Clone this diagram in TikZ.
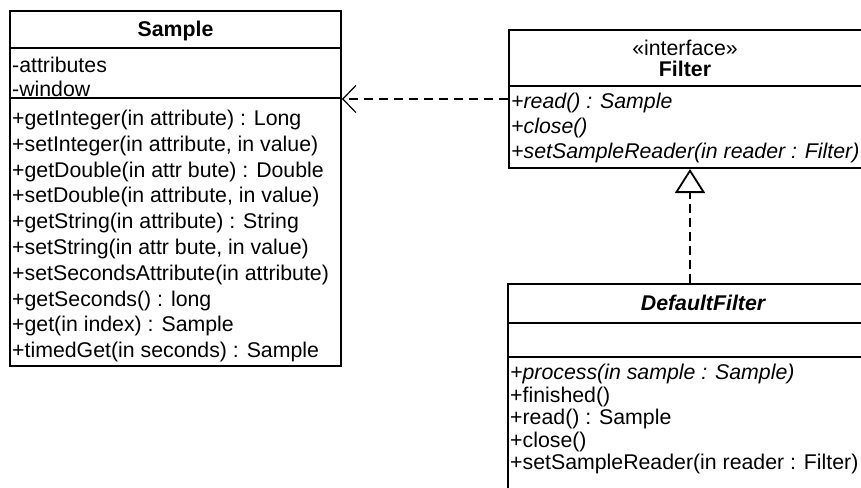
\documentclass[tikz,border=0pt]{standalone}
\usepackage{fontspec}
\setmainfont{Liberation Sans}
\usetikzlibrary{arrows.meta}
\begin{document}
\begin{tikzpicture}[x=1pt,y=-1pt,
  font=\fontsize{21.3}{24}\selectfont,
  classbox/.style={draw, line width=2pt, rectangle, inner sep=0pt},
  sepline/.style={line width=2pt},
  txt/.style={anchor=base west, inner sep=0pt},
  ttl/.style={anchor=base, inner sep=0pt},
  dependency/.style={line width=1.2pt, dash pattern=on 9pt off 6pt,
    -{Straight Barb[length=13pt, width=27pt, line width=1.2pt]}},
  realize/.style={line width=1.2pt, dash pattern=on 9pt off 5pt,
    -{Triangle[open, length=24pt, width=30pt, line width=1.8pt, fill=white]}}]
\useasboundingbox (0,0) rectangle (861,487);
\clip (0,0) rectangle (861,487);

% ---------- Sample ----------
\node[classbox, minimum width=331pt, minimum height=355pt] (sample) at (175.5,188.5) {};
\draw[sepline] (10,48.5) -- (341,48.5);
\draw[sepline] (10,98) -- (341,98);
\node[ttl, font=\fontsize{21.3}{24}\selectfont\bfseries] (sampleT) at (175.5,36.5) {Sample};
\node[txt] (sa1) at (12,72) {-attributes};
\node[txt] (sa2) at (12,96) {-window};
\node[txt] (sm1) at (12,125.5) {+getInteger(in attribute) : Long};
\node[txt] (sm2) at (12,151.3) {+setInteger(in attribute, in value)};
\node[txt] (sm3) at (12,177.1) {+getDouble(in attr bute) : Double};
\node[txt] (sm4) at (12,202.9) {+setDouble(in attribute, in value)};
\node[txt] (sm5) at (12,228.7) {+getString(in attribute) : String};
\node[txt] (sm6) at (12,254.5) {+setString(in attr bute, in value)};
\node[txt] (sm7) at (12,280.3) {+setSecondsAttribute(in attribute)};
\node[txt] (sm8) at (12,306.1) {+getSeconds() : long};
\node[txt] (sm9) at (12,331.9) {+get(in index) : Sample};
\node[txt] (sm10) at (12,357.7) {+timedGet(in seconds) : Sample};

% ---------- Filter ----------
\node[classbox, minimum width=354pt, minimum height=138pt] (filter) at (686,99) {};
\draw[sepline] (509,86) -- (863,86);
\node[ttl] (filterS) at (685,55.5) {«interface»};
\node[ttl, font=\fontsize{21.3}{24}\selectfont\bfseries] (filterT) at (685,76) {Filter};
\node[txt, font=\fontsize{21.3}{24}\selectfont\itshape] (fm1) at (511,108) {+read() : Sample};
\node[txt, font=\fontsize{21.3}{24}\selectfont\itshape] (fm2) at (511,133) {+close()};
\node[txt, font=\fontsize{21.3}{24}\selectfont\itshape] (fm3) at (511,158) {+setSampleReader(in reader : Filter)};

% ---------- DefaultFilter ----------
\node[classbox, minimum width=390pt, minimum height=230pt] (dfilter) at (703,399) {};
\draw[sepline] (508,322.5) -- (898,322.5);
\draw[sepline] (508,356.5) -- (898,356.5);
\node[ttl, font=\fontsize{21.3}{24}\selectfont\bfseries\itshape] (dfilterT) at (703,310.5) {DefaultFilter};
\node[txt, font=\fontsize{21.3}{24}\selectfont\itshape] (dm1) at (510,379.5) {+process(in sample : Sample)};
\node[txt] (dm2) at (510,402) {+finished()};
\node[txt] (dm3) at (510,424.5) {+read() : Sample};
\node[txt] (dm4) at (510,447) {+close()};
\node[txt] (dm5) at (510,469.5) {+setSampleReader(in reader : Filter)};

% ---------- connectors ----------
\draw[dependency] (filter.west) -- (filter.west -| sample.east);
\coordinate (rx) at (690,0);
\draw[realize] (rx |- dfilter.north) -- (rx |- filter.south);
\end{tikzpicture}
\end{document}
